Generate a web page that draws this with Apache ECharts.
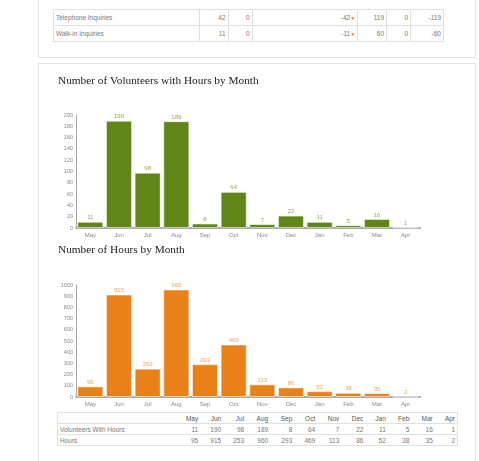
<!DOCTYPE html>
<html><head><meta charset="utf-8">
<script src="https://cdn.jsdelivr.net/npm/echarts@6/dist/echarts.min.js"></script>
<style>
html,body{margin:0;padding:0;background:#fff;width:479px;height:461px;overflow:hidden;font-family:"Liberation Sans",Arial,sans-serif;}
.panel{position:absolute;border:1px solid #e2e2e2;box-sizing:border-box;}
table{position:absolute;border-collapse:collapse;font-size:6.5px;color:#777;}
td{padding:0 2px;text-align:right;white-space:nowrap;}
#t1 td{border:1px solid #e0e0e0;height:15px;}
#t1 td.n{text-align:left;}
#t2 td{border-top:1px solid #e0e0e0;border-bottom:1px solid #e0e0e0;height:10px;}
#t2 td.n{text-align:left;border-left:1px solid #e0e0e0;}
#t2 td.l{border-right:1px solid #e0e0e0;}
#t2 tr.h td{color:#555;}
.ar{color:#e9811a;font-size:5px;}
#chart{position:absolute;left:0;top:0;width:479px;height:461px;}
</style></head>
<body>
<div class="panel" style="left:38px;top:-5px;width:438px;height:63px;"></div>
<div class="panel" style="left:38px;top:63px;width:438px;height:410px;"></div>
<table id="t1" style="left:53px;top:9px;width:391px;">
<colgroup><col style="width:146px"><col style="width:29px"><col style="width:24px"><col style="width:106px"><col style="width:29px"><col style="width:24px"><col style="width:33px"></colgroup>
<tbody id="t1b"></tbody></table>
<table id="t2" style="left:57px;top:412px;width:401px;"><tbody id="t2b"></tbody></table>
<div id="chart"></div>
<script>
// ---- data ----
var months = ["May","Jun","Jul","Aug","Sep","Oct","Nov","Dec","Jan","Feb","Mar","Apr"];
var volunteers = [11,190,98,189,8,64,7,22,11,5,16,1];
var hours = [95,915,253,960,293,469,113,86,52,38,35,2];
var topRowNames = ["Telephone Inquiries","Walk-in Inquiries"];
var topRowA = [42,11];
var topRowB = [0,0];
var topRowDiff = [-42,-11];
var topRowC = [119,60];
var topRowD = [0,0];
var topRowDiff2 = [-119,-60];
var bottomRowNames = ["Volunteers With Hours","Hours"];
var title1 = "Number of Volunteers with Hours by Month";
var title2 = "Number of Hours by Month";

// ---- top table ----
var t1 = document.getElementById('t1b');
for (var i=0;i<topRowNames.length;i++){
  var tr=document.createElement('tr');
  tr.innerHTML='<td class="n">'+topRowNames[i]+'</td><td>'+topRowA[i]+'</td><td>'+topRowB[i]+'</td><td>'+topRowDiff[i]+'<span class="ar">&#9660;</span></td><td>'+topRowC[i]+'</td><td>'+topRowD[i]+'</td><td>'+topRowDiff2[i]+'</td>';
  t1.appendChild(tr);
}
// ---- bottom table ----
var t2 = document.getElementById('t2b');
var h='<tr class="h"><td class="n" style="width:113px"></td>';
months.forEach(function(m,k){h+='<td'+(k==months.length-1?' class="l"':'')+'>'+m+'</td>';});
h+='</tr>';
[volunteers,hours].forEach(function(arr,r){
  h+='<tr><td class="n">'+bottomRowNames[r]+'</td>';
  arr.forEach(function(v,k){h+='<td'+(k==arr.length-1?' class="l"':'')+'>'+v+'</td>';});
  h+='</tr>';
});
t2.innerHTML=h;

// ---- charts ----
var chart = echarts.init(document.getElementById('chart'), null, {renderer:'canvas'});
function xAx(gi){return {type:'category',gridIndex:gi,data:months,
  axisLine:{lineStyle:{color:'#aaa',width:2}},axisTick:{show:false},
  axisLabel:{fontSize:6,color:'#888',margin:4,fontFamily:'Liberation Sans'}};}
function yAx(gi,max,iv){return {type:'value',gridIndex:gi,min:0,max:max,interval:iv,
  axisLine:{show:true,lineStyle:{color:'#aaa',width:1}},axisTick:{show:false},splitLine:{show:false},
  axisLabel:{fontSize:5.5,color:'#888',margin:3,fontFamily:'Liberation Sans',formatter:function(v){return String(v);}}};}
function bar(gi,data,color,lc){return {type:'bar',xAxisIndex:gi,yAxisIndex:gi,data:data,barCategoryGap:'9%',
  itemStyle:{color:color,borderColor:'rgba(255,255,255,0.55)',borderWidth:1},
  label:{show:true,position:'top',distance:1,fontSize:6,color:lc,fontFamily:'Liberation Sans'},silent:true};}
var tstyle={fontFamily:'Liberation Serif',fontWeight:'normal',fontSize:11.3,color:'#222'};
chart.setOption({
  animation:false,
  title:[
    {text:title1,left:58,top:76,padding:0,textStyle:tstyle},
    {text:title2,left:58,top:245,padding:0,textStyle:tstyle}
  ],
  grid:[
    {left:76,right:59,top:115,height:113},
    {left:76,right:59,top:285,height:112}
  ],
  xAxis:[xAx(0),xAx(1)],
  yAxis:[yAx(0,200,20),yAx(1,1000,100)],
  series:[bar(0,volunteers,'#5f8616','#8fad55'),bar(1,hours,'#ea8118','#f2a55a')]
});
</script>
</body></html>
